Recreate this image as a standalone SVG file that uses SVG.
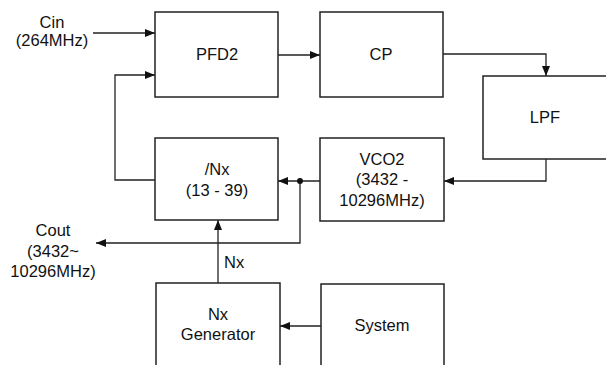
<svg xmlns="http://www.w3.org/2000/svg" width="606" height="365" viewBox="0 0 606 365">
<defs>
<style>
.box{fill:#fff;stroke:#222;stroke-width:1.5}
.ln{fill:none;stroke:#222;stroke-width:1.3}
text{font-family:"Liberation Sans",Arial,sans-serif;font-size:16.5px;fill:#111;text-anchor:middle}
</style>
<marker id="ah" viewBox="0 0 10 8" refX="10" refY="4" markerWidth="10" markerHeight="8" markerUnits="userSpaceOnUse" orient="auto">
<path d="M0,0 L10,4 L0,8 z" fill="#111"/>
</marker>
</defs>
<rect width="606" height="365" fill="#fff"/>
<g id="connectors">
<path class="ln" d="M93,33 H155" marker-end="url(#ah)"/>
<path class="ln" d="M155,180 H115 V75 H155" marker-end="url(#ah)"/>
<path class="ln" d="M278,55 H320" marker-end="url(#ah)"/>
<path class="ln" d="M443,54 H546 V76" marker-end="url(#ah)"/>
<path class="ln" d="M546,159 V181 H444" marker-end="url(#ah)"/>
<path class="ln" d="M320,181 H278" marker-end="url(#ah)"/>
<path class="ln" d="M300,181 V243 H96" marker-end="url(#ah)"/>
<path class="ln" d="M218,283 V220" marker-end="url(#ah)"/>
<path class="ln" d="M321,326 H280" marker-end="url(#ah)"/>
<circle cx="300" cy="181" r="3" fill="#111"/>
<text x="224" y="268" style="text-anchor:start">Nx</text>
</g>
<g id="cin"><text x="52" y="28">Cin</text><text x="52" y="46">(264MHz)</text></g>
<g id="cout"><text x="53" y="236">Cout</text><text x="53" y="257">(3432~</text><text x="53" y="277">10296MHz)</text></g>
<g id="pfd2"><rect class="box" x="155" y="12" width="123" height="85"/><text x="217" y="60">PFD2</text></g>
<g id="cp"><rect class="box" x="320" y="12" width="123" height="85"/><text x="381" y="60">CP</text></g>
<g id="lpf"><rect class="box" x="483" y="76" width="130" height="83"/><text x="545" y="123">LPF</text></g>
<g id="vco2"><rect class="box" x="320" y="138" width="124" height="83"/><text x="382" y="165">VCO2</text><text x="382" y="185">(3432 -</text><text x="382" y="206">10296MHz)</text></g>
<g id="divnx"><rect class="box" x="155" y="138" width="123" height="82"/><text x="217" y="175">/Nx</text><text x="217" y="196">(13 - 39)</text></g>
<g id="nxgen"><rect class="box" x="156" y="283" width="124" height="90"/><text x="218" y="320">Nx</text><text x="218" y="340">Generator</text></g>
<g id="system"><rect class="box" x="321" y="284" width="123" height="90"/><text x="382" y="331">System</text></g>
</svg>
